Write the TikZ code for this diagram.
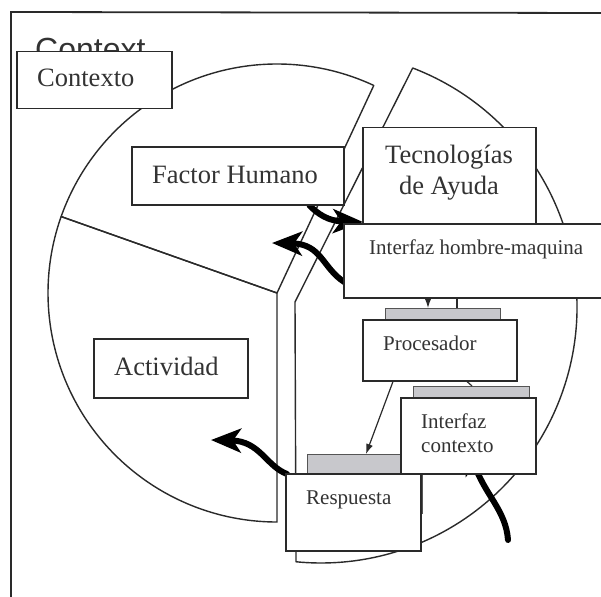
\documentclass[tikz,border=0pt]{standalone}
\usepackage{fontspec}
\setmainfont{Liberation Serif}
\newfontfamily\ctxfont{Liberation Sans}
\usetikzlibrary{arrows.meta,calc}
\definecolor{ink}{HTML}{2A2A2A}
\definecolor{txt}{HTML}{333333}
\definecolor{barfill}{HTML}{C8C8CC}
\pgfdeclarelayer{back}
\pgfdeclarelayer{mid}
\pgfsetlayers{back,mid,main}
\begin{document}
\begin{tikzpicture}[x=1pt,y=-1pt,
  box/.style={draw=ink, line width=1.5pt, fill=white, inner sep=0pt, anchor=north west},
  bar/.style={draw=ink!80, line width=1.2pt, fill=barfill, inner sep=0pt, anchor=north west},
  big/.style={font=\fontsize{26.5}{31}\selectfont, text=txt, inner sep=0pt, anchor=base west},
  bigc/.style={font=\fontsize{26.5}{31}\selectfont, text=txt, inner sep=0pt, anchor=base},
  small/.style={font=\fontsize{21}{25}\selectfont, text=txt, inner sep=0pt, anchor=base west},
  seg/.style={draw=ink, line width=1.4pt, line join=round},
  bigarrow/.style={line width=6pt, black, line cap=round, -{Stealth[length=30pt,width=24pt,inset=8pt]}},
  thinarrow/.style={line width=1.2pt, ink, -{Latex[length=10pt,width=7pt]}},
  thinline/.style={line width=1.2pt, ink}
]
\useasboundingbox (0,0) rectangle (601,596);
\begin{pgfonlayer}{back}
\fill[white] (0,0) rectangle (601,596);
% outer frame
\draw[ink, line width=1.8pt] (11,600) -- (11,12) -- (605,13);
% partially hidden title
\node[font=\ctxfont\fontsize{32}{36}\selectfont, text=txt, inner sep=0pt, anchor=base west] (ctx) at (35,61) {Context};
% pie segments
\draw[seg] (277,293) -- ++(-65:229) arc[start angle=-65, end angle=-160.5, radius=229] -- cycle;
\draw[seg] (277,293) -- ++(-160.5:229) arc[start angle=199.5, end angle=90, radius=229] -- cycle;
\draw[seg] (295,302) -- (412.7,68) arc[start angle=-69, end angle=95.6, radius=256] -- cycle;
\end{pgfonlayer}
% boxes
\path
  node[box, minimum width=155pt, minimum height=57pt] (contexto) at (16,51) {}
  node[box, minimum width=212pt, minimum height=58pt] (fh) at (131,146) {}
  node[box, minimum width=173pt, minimum height=96pt] (tec) at (362,127) {}
  node[box, minimum width=280pt, minimum height=74pt] (ihm) at (343,223) {}
  node[box, minimum width=154pt, minimum height=59pt] (act) at (93,338) {}
  node[bar, minimum width=115pt, minimum height=11pt] (bar1) at (385,308) {}
  node[box, minimum width=154pt, minimum height=61pt] (proc) at (362,319) {}
  node[bar, minimum width=116pt, minimum height=11pt] (bar2) at (413,386) {}
  node[bar, minimum width=115pt, minimum height=59pt] (grayresp) at (307,454) {}
  node[box, minimum width=135pt, minimum height=76pt] (ic) at (400,397) {}
  node[box, minimum width=135pt, minimum height=77pt] (resp) at (285,473) {};
% texts
\node[big] (t-contexto) at (37,87) {Contexto};
\node[big] (t-fh) at (152,183) {Factor Humano};
\node[bigc] (t-tec1) at (449,163) {Tecnologías};
\node[bigc] (t-tec2) at (449,194) {de Ayuda};
\node[big] (t-act) at (114,375) {Actividad};
\node[small] (t-ihm) at (369,254) {Interfaz hombre-maquina};
\node[small] (t-proc) at (383,350) {Procesador};
\node[small] (t-ic1) at (421,428) {Interfaz};
\node[small] (t-ic2) at (421,452) {contexto};
\node[small] (t-resp) at (306,504) {Respuesta};
% thick arrows (under the boxes)
\coordinate (fhend) at (272,243);
\coordinate (actend) at (211,440);
\coordinate (ctxstart) at (508,540);
\begin{pgfonlayer}{mid}
\draw[bigarrow] ($(fh.south east)+(-35,0)$) .. controls (318,214) and (328,221) .. ($(ihm.north west)+(20,-1)$);
\draw[bigarrow] ($(ihm.south west)+(2,-16)$) .. controls (322,268) and (322,244) .. (fhend);
\draw[bigarrow] ($(resp.north west)+(2,1)$) .. controls (266,466) and (260,441) .. (actend);
\draw[bigarrow] (ctxstart) .. controls (506,510) and (484,494) .. ($(ic.south west)+(68,-30)$);
\end{pgfonlayer}
% thin connectors
\draw[thinarrow] ($(ihm.south west)+(85,0)$) -- ($(bar1.north west)+(43,0)$);
\draw[thinline] ($(ihm.south west)+(114,0)$) -- ($(bar1.north west)+(72,0)$);
\draw[thinarrow] ($(proc.south west)+(31,0)$) -- ($(grayresp.north west)+(59,0)$);
\draw[thinline] ($(proc.south west)+(105,0)$) -- ($(bar2.north west)+(59,0)$);
\end{tikzpicture}
\end{document}
